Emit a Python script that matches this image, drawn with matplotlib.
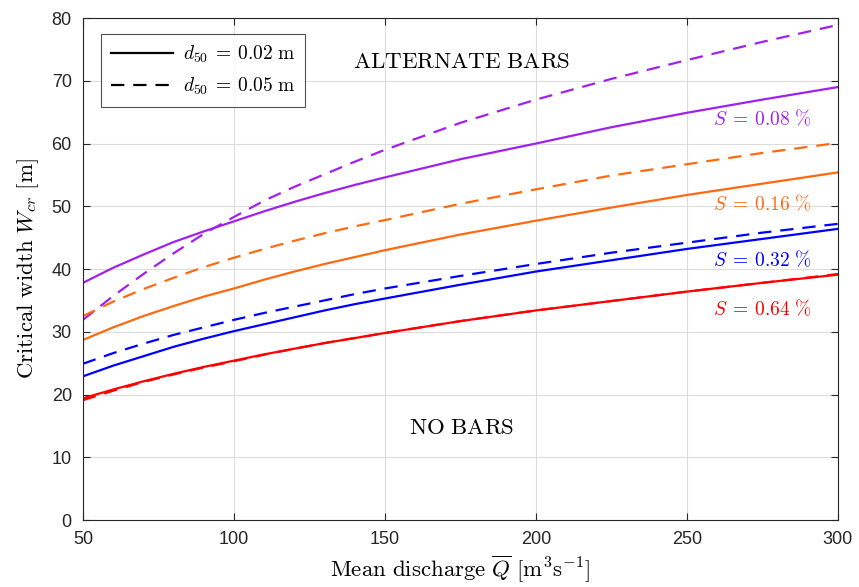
import numpy as np
import matplotlib
matplotlib.use("Agg")
import matplotlib.pyplot as plt
from matplotlib.lines import Line2D

plt.rcParams['mathtext.fontset'] = 'cm'
plt.rcParams['font.family'] = ['Liberation Sans', 'DejaVu Sans']

# mean discharge [m3/s]
Q = [50, 60, 70, 80, 90, 100, 110, 120, 130, 140, 150, 175, 200, 225, 250, 275, 300]

# critical width [m], d50 = 0.02 m (solid)
w_s008_d02 = [37.8, 40.2, 42.3, 44.3, 46.0, 47.6, 49.2, 50.7, 52.1, 53.4, 54.6, 57.5, 60.0, 62.6, 64.9, 67.0, 69.0]
w_s016_d02 = [28.7, 30.7, 32.5, 34.1, 35.6, 36.9, 38.3, 39.6, 40.8, 41.9, 43.0, 45.5, 47.7, 49.8, 51.8, 53.6, 55.4]
w_s032_d02 = [22.9, 24.6, 26.1, 27.6, 28.9, 30.1, 31.2, 32.3, 33.4, 34.4, 35.3, 37.5, 39.6, 41.4, 43.2, 44.8, 46.4]
w_s064_d02 = [19.4, 20.8, 22.1, 23.3, 24.4, 25.4, 26.4, 27.3, 28.2, 29.0, 29.8, 31.7, 33.4, 34.9, 36.4, 37.8, 39.1]

# critical width [m], d50 = 0.05 m (dashed)
w_s008_d05 = [31.9, 35.7, 39.2, 42.5, 45.6, 48.3, 50.9, 53.1, 55.1, 57.1, 59.0, 63.3, 67.0, 70.3, 73.3, 76.2, 78.9]
w_s016_d05 = [32.5, 34.8, 36.8, 38.6, 40.3, 41.8, 43.2, 44.5, 45.7, 46.8, 47.8, 50.4, 52.7, 54.9, 56.7, 58.5, 60.1]
w_s032_d05 = [24.9, 26.6, 28.1, 29.5, 30.7, 31.9, 33.0, 34.0, 35.0, 36.0, 36.9, 38.9, 40.8, 42.6, 44.2, 45.8, 47.2]
w_s064_d05 = [19.1, 20.6, 22.0, 23.2, 24.3, 25.3, 26.35, 27.3, 28.2, 29.0, 29.8, 31.7, 33.4, 34.9, 36.4, 37.8, 39.2]

slopes = ['0.08', '0.16', '0.32', '0.64']
colors = ['#A020F0', '#FF6A10', '#0000FF', '#FF0000']
label_y = [63.9, 50.4, 41.4, 33.6]

solid = [w_s008_d02, w_s016_d02, w_s032_d02, w_s064_d02]
dashed = [w_s008_d05, w_s016_d05, w_s032_d05, w_s064_d05]

fig = plt.figure(figsize=(8.59, 5.87), dpi=100)
ax = fig.add_axes([0.0966, 0.1141, 0.8789, 0.8552])

for ws, wd, c in zip(solid, dashed, colors):
    ax.plot(Q, ws, color=c, linewidth=1.6)
    ax.plot(Q, wd, color=c, linewidth=1.6, linestyle=(0, (6, 4)))

for s, c, y in zip(slopes, colors, label_y):
    ax.text(275, y, r'$S\:=\:%s\ \%%$' % s, color=c, fontsize=14,
            ha='center', va='center')

ax.text(175.5, 73, r'$\mathrm{ALTERNATE\ BARS}$', fontsize=16.5, ha='center', va='center')
ax.text(175.5, 14.8, r'$\mathrm{NO\ BARS}$', fontsize=16.5, ha='center', va='center')

ax.set_xlim(50, 300)
ax.set_ylim(0, 80)
ax.set_xticks(np.arange(50, 301, 50))
ax.set_yticks(np.arange(0, 81, 10))
ax.grid(True, color='#dcdcdc', linewidth=0.8)
ax.set_axisbelow(True)
ax.tick_params(direction='in', top=True, right=True, labelsize=13,
               colors='#262626', length=5)
ax.tick_params(axis='x', pad=8)
ax.tick_params(axis='y', pad=8)
for sp in ax.spines.values():
    sp.set_color('#262626')
    sp.set_linewidth(0.8)

ax.set_xlabel(r'$\mathrm{Mean\ discharge}\ \overline{Q}\ [\mathrm{m}^3\mathrm{s}^{-1}]$',
              fontsize=16.5, labelpad=4)
ax.set_ylabel(r'$\mathrm{Critical\ width}\ W_{cr}\ [\mathrm{m}]$', fontsize=16.5, labelpad=8)

handles = [Line2D([], [], color='black', linewidth=1.6),
           Line2D([], [], color='black', linewidth=1.6, linestyle=(0, (6, 4)))]
leg = ax.legend(handles, [r'$d_{50}\:=\:0.02\ \mathrm{m}$', r'$d_{50}\:=\:0.05\ \mathrm{m}$'],
                loc='upper left', bbox_to_anchor=(0.024, 0.968), borderaxespad=0,
                fontsize=14, frameon=True, fancybox=False, handlelength=3.2,
                handletextpad=0.5, borderpad=0.5, labelspacing=0.55)
leg.get_frame().set_edgecolor('#262626')
leg.get_frame().set_linewidth(0.8)

fig.savefig('out.png', dpi=100)
